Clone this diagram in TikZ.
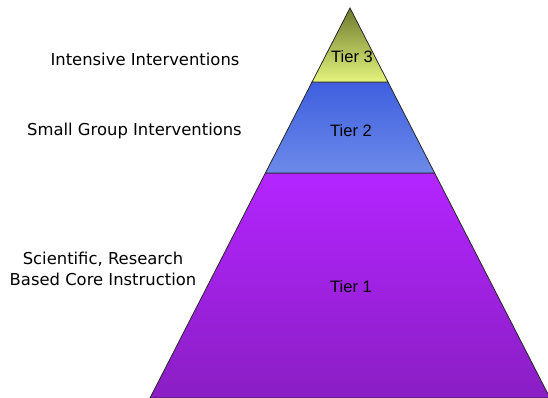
\documentclass[tikz,border=0pt]{standalone}
\usepackage{fontspec}
\setmainfont{DejaVu Sans}
\newfontfamily\tierfont{Liberation Sans}
\usetikzlibrary{calc}

\definecolor{tierthreetop}{HTML}{6E7A2E}
\definecolor{tierthreebot}{HTML}{E4F47C}
\definecolor{tiertwotop}{HTML}{3F5FE0}
\definecolor{tiertwobot}{HTML}{6C8AE8}
\definecolor{tieronetop}{HTML}{B425FF}
\definecolor{tieronebot}{HTML}{8A1EC4}

\begin{document}
\begin{tikzpicture}[
        x=1pt, y=1pt,
        tier/.style={
            draw=black!85,
            line width=0.8pt,
            line join=miter
        },
        tier_label/.style={
            font=\tierfont\fontsize{16.5}{19}\selectfont,
            text centered
        },
        side_label/.style={
            font=\fontsize{16.4}{21}\selectfont,
            align=center
        }
    ]
        \useasboundingbox (0,0) rectangle (548,398);

        % --- PYRAMID CORNERS ---
        \coordinate (apex) at (350,390);
        \coordinate (bl) at (150,0);
        \coordinate (br) at (550,0);
        \coordinate (l3) at ($(apex)!0.19!(bl)$);
        \coordinate (r3) at ($(apex)!0.19!(br)$);
        \coordinate (l2) at ($(apex)!0.423!(bl)$);
        \coordinate (r2) at ($(apex)!0.423!(br)$);

        % --- TIERS WITH SHADING ---
        \path[tier, top color=tieronetop, bottom color=tieronebot] (l2) -- (r2) -- (br) -- (bl) -- cycle;
        \path[tier, top color=tiertwotop, bottom color=tiertwobot] (l3) -- (r3) -- (r2) -- (l2) -- cycle;
        \path[tier, top color=tierthreetop, bottom color=tierthreebot] (apex) -- (r3) -- (l3) -- cycle;

        % --- TIER NAMES ---
        \node[tier_label] (T3) at (352,341) {Tier 3};
        \node[tier_label] (T2) at (351,267) {Tier 2};
        \node[tier_label] (T1) at (351,111) {Tier 1};

        % --- LABELS ON THE LEFT ---
        \node[side_label] (intensive) at (145,339) {Intensive Interventions};
        \node[side_label] (small) at (134.5,267) {Small Group Interventions};
        \node[side_label] (core) at (103,129.5) {Scientific, Research\\Based Core Instruction};

    \end{tikzpicture}
\end{document}
